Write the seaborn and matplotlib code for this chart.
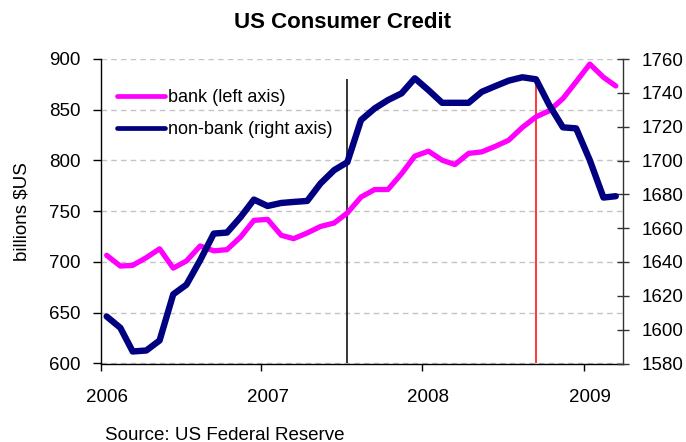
import matplotlib
matplotlib.use("Agg")
import matplotlib.pyplot as plt
import matplotlib.dates as mdates
from matplotlib.ticker import FixedLocator, NullFormatter, FuncFormatter
import numpy as np
import pandas as pd
import seaborn as sns

# Monthly consumer credit outstanding, billions of US dollars (Jan 2006 - Mar 2009)
months = pd.date_range("2006-01-01", "2009-03-01", freq="MS") + pd.Timedelta(days=14)

bank = [706.6, 696.0, 696.7, 704.3, 713.0, 694.0, 701.0, 715.8, 711.0, 712.2,
        724.7, 741.0, 742.0, 726.3, 723.0, 728.6, 735.0, 738.4, 748.3, 764.0,
        771.4, 771.4, 787.0, 804.3, 809.2, 800.3, 796.0, 807.0, 808.5, 814.0,
        820.0, 832.6, 843.0, 849.0, 861.0, 877.6, 895.0, 882.0, 873.4]

non_bank = [1607.8, 1601.1, 1587.1, 1587.7, 1593.6, 1620.9, 1626.6, 1641.0,
            1656.8, 1657.4, 1666.6, 1676.9, 1673.1, 1674.9, 1675.5, 1676.1,
            1686.4, 1694.3, 1699.0, 1723.9, 1730.8, 1735.7, 1739.7, 1748.6,
            1741.6, 1734.1, 1734.1, 1734.1, 1740.6, 1744.0, 1747.2, 1749.2,
            1748.0, 1732.8, 1719.6, 1719.0, 1700.2, 1678.1, 1678.9]

series_labels = ["bank (left axis)", "non-bank (right axis)"]
left_ticks = [600, 650, 700, 750, 800, 850, 900]
right_ticks = [1580, 1600, 1620, 1640, 1660, 1680, 1700, 1720, 1740, 1760]

# Marker lines: onset of the credit crunch and the Lehman collapse
event_months = [months[18], months[32]]
event_colors = ["black", "red"]
event_top = 880

df = pd.DataFrame({"month": months, "bank": bank, "non_bank": non_bank})

sns.set_style("white")
plt.rcParams["font.family"] = ["Liberation Sans", "DejaVu Sans"]
plt.rcParams.update({
    "text.color": "black",
    "axes.labelcolor": "black",
    "xtick.color": "black",
    "ytick.color": "black",
})

W, H = 686, 442
fig = plt.figure(figsize=(W / 100, H / 100), dpi=100)
x0, x1, y0, y1 = 100.5, 623.3, 59, 363.5
ax = fig.add_axes([x0 / W, 1 - y1 / H, (x1 - x0) / W, (y1 - y0) / H])
ax2 = ax.twinx()

# vertical event markers (behind the series)
for d, c in zip(event_months, event_colors):
    ax.vlines(d, left_ticks[0], event_top, color=c, lw=1.1, zorder=1)

sns.lineplot(data=df, x="month", y="bank", ax=ax, color="#FF00FF", lw=3.8,
             label=series_labels[0], legend=False, zorder=3,
             solid_capstyle="round", solid_joinstyle="round")
sns.lineplot(data=df, x="month", y="non_bank", ax=ax2, color="#000080", lw=4.6,
             label=series_labels[1], legend=False, zorder=3,
             solid_capstyle="round", solid_joinstyle="round")

ax.set_ylim(left_ticks[0], left_ticks[-1])
ax2.set_ylim(right_ticks[0], right_ticks[-1])
ax.set_yticks(left_ticks)
ax2.set_yticks(right_ticks)
ax.set_xlim(pd.Timestamp("2006-01-01"), pd.Timestamp("2009-04-01"))

# year ticks on Jan 1, year labels under the January observations
ax.xaxis.set_major_locator(mdates.YearLocator())
ax.xaxis.set_major_formatter(NullFormatter())
jan = months[months.month == 1]
ax.xaxis.set_minor_locator(FixedLocator(mdates.date2num(jan)))
ax.xaxis.set_minor_formatter(FuncFormatter(lambda v, p: mdates.num2date(v).strftime("%Y")))

ax.set_xlabel("")
ax.set_ylabel("")
ax2.set_ylabel("")

tick_fs = 13.5
ax.tick_params(axis="y", which="major", direction="out", length=5.8, width=1,
               color="black", labelcolor="black", pad=8.5, labelsize=tick_fs,
               left=True)
ax2.tick_params(axis="y", which="major", direction="inout", length=8, width=1,
                color="#333333", labelcolor="black", pad=9, labelsize=tick_fs,
                right=True)
ax.tick_params(axis="x", which="major", direction="out", length=5, width=1,
               color="black", bottom=True)
ax.tick_params(axis="x", which="minor", length=0, pad=18, labelsize=tick_fs,
               labelcolor="black")

ax.yaxis.grid(True, linestyle=(0, (4, 3)), color="#C4C4C4", lw=1)
ax.xaxis.grid(False)
ax2.grid(False)

for a in (ax, ax2):
    a.spines["top"].set_visible(False)
ax.spines["right"].set_visible(False)
ax2.spines["left"].set_visible(False)
ax2.spines["bottom"].set_visible(False)
ax.spines["left"].set_color("black")
ax.spines["bottom"].set_color("black")
ax2.spines["right"].set_color("#333333")
for s in ("left", "bottom"):
    ax.spines[s].set_linewidth(1)
ax2.spines["right"].set_linewidth(1)

handles = ax.get_lines()[-1:] + ax2.get_lines()[-1:]
leg = ax2.legend(handles, series_labels, loc="upper left",
                 bbox_to_anchor=(117.3 / W, 1 - 89 / H),
                 bbox_transform=fig.transFigure, frameon=False, fontsize=13,
                 borderpad=0, borderaxespad=0, handlelength=2.64,
                 handletextpad=0.18, labelspacing=0.85)
for ln in leg.get_lines():
    ln.set_linewidth(3.4)
    ln.set_solid_capstyle("round")

fig.text(0.5, 1 - 23 / H, "US Consumer Credit", ha="center", va="center",
         fontsize=16, fontweight="bold", color="black")
fig.text(21.5 / W, 1 - 211.5 / H, "billions $US", rotation=90,
         ha="center", va="center", fontsize=13.5, color="black")
fig.text(105 / W, 1 - 435 / H, "Source: US Federal Reserve", ha="left",
         va="center", fontsize=13.5, color="black")

fig.savefig("out.png", dpi=100)
